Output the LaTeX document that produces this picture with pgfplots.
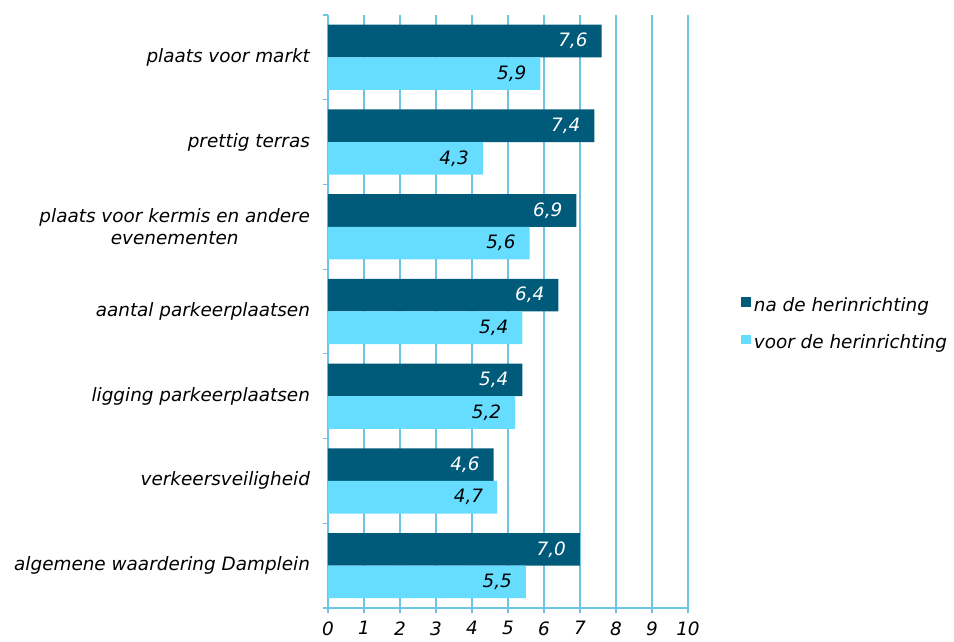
\documentclass[border=0pt]{standalone}
\usepackage{pgfplots}
\pgfplotsset{compat=1.18}
\usepackage{fontspec}
\setmainfont{DejaVu Sans}
\definecolor{darkbar}{RGB}{0,91,122}
\definecolor{lightbar}{RGB}{102,221,255}
\definecolor{gridc}{RGB}{110,196,228}
\newcommand{\chartfont}{\fontsize{13.8}{17}\selectfont\itshape}
\begin{document}
\begin{tikzpicture}
\begin{axis}[
  scale only axis, width=270pt, height=444.75pt,
  xmin=0, xmax=10, ymin=-0.5, ymax=6.5,
  xbar, bar width=0.385,
  axis x line*=bottom, axis y line*=left,
  axis line style={gridc, line width=0.9pt, -},
  xtick={0,...,10}, xmajorgrids, major grid style={gridc, line width=0.9pt},
  tick align=outside,
  major x tick style={gridc, line width=0.9pt},
  major tick length=4pt, minor tick length=4pt,
  ytick={0,...,6}, major y tick style={draw=none},
  minor ytick={-0.5,0.5,...,6.5}, minor y tick style={gridc, line width=0.9pt},
  yticklabels={algemene waardering Damplein, verkeersveiligheid, ligging parkeerplaatsen, aantal parkeerplaatsen, {plaats voor kermis en andere\\evenementen}, prettig terras, plaats voor markt},
  yticklabel style={align=center, font=\chartfont, xshift=-6pt},
  xticklabel style={font=\chartfont, yshift=-2.5pt},
  /pgf/number format/assume math mode=true,
  nodes near coords={\pgfmathprintnumber[fixed,fixed zerofill,precision=1,use comma]{\pgfplotspointmeta}},
  every node near coord/.append style={anchor=east, xshift=-7pt, font=\chartfont},
  legend style={draw=none, fill=none, at={(axis description cs:1.136,0.533)}, anchor=north west,
    font=\chartfont, row sep=12pt, legend cell align=left},
]
\addplot[fill=darkbar, draw=none, bar shift=0.1925,
  every node near coord/.append style={text=white},
  legend image code/.code={\fill[darkbar] (0pt,-0.1em) rectangle (7.5pt,0.62em);}]
  coordinates {(7.0,0) (4.6,1) (5.4,2) (6.4,3) (6.9,4) (7.4,5) (7.6,6)};
\addplot[fill=lightbar, draw=none, bar shift=-0.1925,
  every node near coord/.append style={text=black},
  legend image code/.code={\fill[lightbar] (0pt,-0.1em) rectangle (7.5pt,0.62em);}]
  coordinates {(5.5,0) (4.7,1) (5.2,2) (5.4,3) (5.6,4) (4.3,5) (5.9,6)};
\legend{na de herinrichting, voor de herinrichting}
\end{axis}
\path[use as bounding box] ([shift={(-246pt,-25.5pt)}]current axis.south west) rectangle ([shift={(199.5pt,11.25pt)}]current axis.north east);
\end{tikzpicture}
\end{document}
